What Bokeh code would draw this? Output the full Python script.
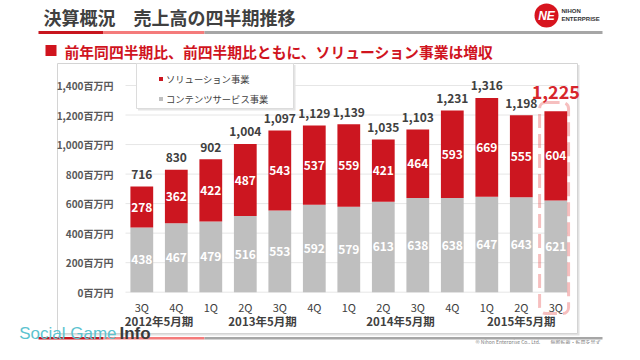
from bokeh.plotting import figure
from bokeh.models import Range1d, Legend, LegendItem, BoxAnnotation, ColumnDataSource
from bokeh.core.properties import value
from bokeh.embed import file_html
from bokeh.resources import INLINE

# ---------------- data ----------------
quarters = ["3Q", "4Q", "1Q", "2Q", "3Q", "4Q", "1Q", "2Q", "3Q", "4Q", "1Q", "2Q", "3Q"]
fiscal_years = ["2012年5月期", "2013年5月期", "2014年5月期", "2015年5月期"]
quarters_per_year = [2, 4, 4, 3]
contents = [438, 467, 479, 516, 553, 592, 579, 613, 638, 638, 647, 643, 621]   # コンテンツサービス事業
solution = [278, 362, 422, 487, 543, 537, 559, 421, 464, 593, 669, 555, 604]   # ソリューション事業
totals = [716, 830, 902, 1004, 1097, 1129, 1139, 1035, 1103, 1231, 1316, 1198, 1225]
y_ticks = [0, 200, 400, 600, 800, 1000, 1200, 1400]

series_names = ["ソリューション事業", "コンテンツサービス事業"]
title_text = "決算概況\u3000売上高の四半期推移"
subtitle_text = "前年同四半期比、前四半期比ともに、ソリューション事業は増収"

# ---------------- layout helpers (picture pixel -> data) ----------------
W, H = 624, 344
X0, DX = 141.3, 34.5      # pixel x of first category, pixels per category
Y0, KY = 291.7, 0.14764   # pixel y of value 0, pixels per unit
def dx(px):
    return (px - X0) / DX
def dy(py):
    return (Y0 - py) / KY

JP_NAME = "Noto Sans CJK JP"
JP = value(JP_NAME)
RED = "#cc1620"
GRAY = "#bfbfbf"
DARK = "#404040"

xs = list(range(len(quarters)))
year_centers = []
start = 0
for n in quarters_per_year:
    year_centers.append(start + (n - 1) / 2)
    start += n

p = figure(width=W, height=H,
           x_range=Range1d(dx(0), dx(W)), y_range=Range1d(dy(H), dy(0)),
           output_backend="svg", toolbar_location=None, min_border=0,
           x_axis_location=None, y_axis_location=None,
           outline_line_color=None, background_fill_color="white",
           border_fill_color="white")
p.grid.visible = False

# ---------------- header ----------------
p.text(x=[dx(43)], y=[dy(16)], text=[title_text], text_font=JP, text_font_size="18px",
       text_font_style="bold", text_color=DARK, text_align="left", text_baseline="middle")
band_l = [dx(38), dx(103), dx(204)]
band_r = [dx(103), dx(204), dx(602)]
band_c = ["#c8161e", "#f47b7b", "#a6a6a6"]
p.quad(left=band_l, right=band_r, top=dy(30.5), bottom=dy(33.5), color=band_c, line_color=None)
p.quad(left=[dx(45)], right=[dx(56)], top=[dy(44.5)], bottom=[dy(55.5)], color="#d0141e", line_color=None)
p.text(x=[dx(64)], y=[dy(50.5)], text=[subtitle_text], text_font=JP, text_font_size="14.8px",
       text_font_style="bold", text_color="#d0141e", text_align="left", text_baseline="middle")

# logo
p.circle(x=[dx(546)], y=[dy(15)], radius=12, radius_units="screen", color="#d7141e", line_color=None)
p.text(x=[dx(546)], y=[dy(15)], text=["NE"], text_font=value("Liberation Sans"), text_font_size="12px",
       text_font_style="bold italic", text_color="white", text_align="center", text_baseline="middle")
p.text(x=[dx(561), dx(561)], y=[dy(10), dy(18)], text=["NIHON", "ENTERPRISE"],
       text_font=value("Liberation Sans"), text_font_size="6px", text_font_style="bold",
       text_color="#333333", text_align="left", text_baseline="middle")

# ---------------- chart panel ----------------
p.quad(left=[dx(58.5)], right=[dx(579)], top=[dy(64.5)], bottom=[dy(335)], color="#e2e2e2", line_color=None)
p.quad(left=[dx(57)], right=[dx(577)], top=[dy(63)], bottom=[dy(333)], fill_color="white",
       line_color="#d4d4d4", line_width=1)

p.segment(x0=dx(125), x1=dx(567), y0=y_ticks, y1=y_ticks, line_color="#e6e6e6", line_width=1)
p.text(x=[dx(113)] * len(y_ticks), y=y_ticks, text=[f"{v:,}百万円" for v in y_ticks],
       text_font=JP, text_font_size="10px", text_font_style="bold", text_color="#595959",
       text_align="right", text_baseline="middle")

src = ColumnDataSource(dict(x=xs, contents=contents, solution=solution))
r_con, r_sol = p.vbar_stack(["contents", "solution"], x="x", width=0.66, source=src,
                            color=[GRAY, RED], line_color=None)

# legend box
p.quad(left=[dx(137.5)], right=[dx(295)], top=[dy(64.5)], bottom=[dy(110)], color="#e4e4e4", line_color=None)
p.quad(left=[dx(136)], right=[dx(293)], top=[dy(63)], bottom=[dy(108)], fill_color="white",
       line_color="#dcdcdc")
legend = Legend(items=[LegendItem(label=series_names[0], renderers=[r_sol]),
                       LegendItem(label=series_names[1], renderers=[r_con])],
                location=(158, H - 105.5), orientation="vertical",
                background_fill_alpha=0, border_line_color=None, padding=3, spacing=6, margin=0,
                label_height=14, glyph_width=5, glyph_height=5, label_standoff=3,
                label_text_font=JP_NAME, label_text_font_size="9.3px", label_text_color=DARK)
p.add_layout(legend)

# segment labels
p.text(x=xs, y=[c / 2 for c in contents], text=[str(c) for c in contents], text_font=JP,
       text_font_size="12px", text_font_style="bold", text_color="white",
       text_align="center", text_baseline="middle")
p.text(x=xs, y=[c + s / 2 for c, s in zip(contents, solution)], text=[str(s) for s in solution],
       text_font=JP, text_font_size="12px", text_font_style="bold", text_color="white",
       text_align="center", text_baseline="middle")

# totals
p.text(x=xs[:-1], y=totals[:-1], text=[f"{t:,}" for t in totals[:-1]], y_offset=-12,
       text_font=JP, text_font_size="12px", text_font_style="bold", text_color=DARK,
       text_align="center", text_baseline="middle")
p.text(x=xs[-1:], y=totals[-1:], text=[f"{t:,}" for t in totals[-1:]], y_offset=-19,
       text_font=JP, text_font_size="18px", text_font_style="bold", text_color="#d7262c",
       text_align="center", text_baseline="middle")

# category labels
p.text(x=xs, y=[dy(306)] * len(xs), text=quarters, text_font=JP, text_font_size="11px",
       text_color=DARK, text_align="center", text_baseline="middle")
p.text(x=year_centers, y=[dy(320)] * len(year_centers), text=fiscal_years, text_font=JP,
       text_font_size="11.5px", text_font_style="bold", text_color=DARK,
       text_align="center", text_baseline="middle")

# highlight of latest quarter
p.add_layout(BoxAnnotation(left=xs[-1] - 0.47, right=xs[-1] + 0.37, top=dy(102), bottom=dy(313),
                           fill_alpha=0, line_color="#e02a2a", line_width=3, line_dash="14 6",
                           border_radius=6))

# ---------------- footer ----------------
p.quad(left=band_l, right=band_r, top=dy(336.5), bottom=dy(339), color=band_c, line_color=None)
p.text(x=[dx(475), dx(550)], y=[dy(341.3)] * 2, text=["© Nihon Enterprise Co., Ltd.", "無断転載・転用を禁ず"],
       text_font=JP, text_font_size="5px", text_color="#808080", text_align="left", text_baseline="middle")
p.text(x=[dx(116)], y=[dy(333)], text=["Social Game"], text_font=value("Liberation Sans"),
       text_font_size="17px", text_color="#5cc3cf", text_align="right", text_baseline="middle")
p.text(x=[dx(119)], y=[dy(333)], text=["Info"], text_font=value("Liberation Sans"),
       text_font_size="17px", text_font_style="bold", text_color="#3a3a3a",
       text_align="left", text_baseline="middle")

open("out.html", "w").write(file_html(p, INLINE))
